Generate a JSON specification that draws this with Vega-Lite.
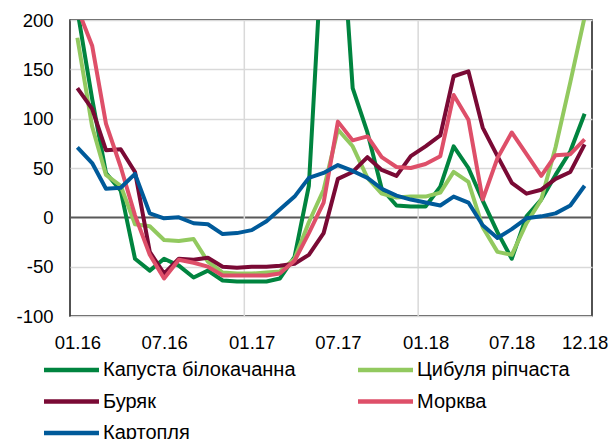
{
  "$schema": "https://vega.github.io/schema/vega-lite/v6.json",
  "width": 522,
  "height": 296,
  "autosize": {"type": "none"},
  "padding": {"left": 70, "top": 20, "right": 20, "bottom": 123},
  "background": "white",
  "config": {
    "view": {"stroke": "#1a1a1a", "strokeWidth": 1.5},
    "font": "Liberation Sans"
  },
  "data": {
    "values": [
      {"date": "2016-01-01", "Капуста білокачанна": 210, "Цибуля ріпчаста": 182, "Буряк": 131, "Морква": 212, "Картопля": 71},
      {"date": "2016-02-01", "Капуста білокачанна": 120, "Цибуля ріпчаста": 92, "Буряк": 110, "Морква": 174, "Картопля": 55},
      {"date": "2016-03-01", "Капуста білокачанна": 45, "Цибуля ріпчаста": 43, "Буряк": 68, "Морква": 95, "Картопля": 29},
      {"date": "2016-04-01", "Капуста білокачанна": 27, "Цибуля ріпчаста": 32, "Буряк": 69, "Морква": 51, "Картопля": 30},
      {"date": "2016-05-01", "Капуста білокачанна": -42, "Цибуля ріпчаста": -7, "Буряк": 46, "Морква": 2, "Картопля": 44},
      {"date": "2016-06-01", "Капуста білокачанна": -54, "Цибуля ріпчаста": -9, "Буряк": -35, "Морква": -38, "Картопля": 4},
      {"date": "2016-07-01", "Капуста білокачанна": -42, "Цибуля ріпчаста": -23, "Буряк": -57, "Морква": -62, "Картопля": -1},
      {"date": "2016-08-01", "Капуста білокачанна": -49, "Цибуля ріпчаста": -24, "Буряк": -42, "Морква": -43, "Картопля": 0},
      {"date": "2016-09-01", "Капуста білокачанна": -61, "Цибуля ріпчаста": -22, "Буряк": -43, "Морква": -46, "Картопля": -6},
      {"date": "2016-10-01", "Капуста білокачанна": -54, "Цибуля ріпчаста": -45, "Буряк": -41, "Морква": -50, "Картопля": -7},
      {"date": "2016-11-01", "Капуста білокачанна": -64, "Цибуля ріпчаста": -56, "Буряк": -50, "Морква": -59, "Картопля": -17},
      {"date": "2016-12-01", "Капуста білокачанна": -65, "Цибуля ріпчаста": -57, "Буряк": -51, "Морква": -59, "Картопля": -16},
      {"date": "2017-01-01", "Капуста білокачанна": -65, "Цибуля ріпчаста": -57, "Буряк": -50, "Морква": -59, "Картопля": -13},
      {"date": "2017-02-01", "Капуста білокачанна": -65, "Цибуля ріпчаста": -56, "Буряк": -50, "Морква": -59, "Картопля": -4},
      {"date": "2017-03-01", "Капуста білокачанна": -62, "Цибуля ріпчаста": -55, "Буряк": -49, "Морква": -57, "Картопля": 8},
      {"date": "2017-04-01", "Капуста білокачанна": -40, "Цибуля ріпчаста": -42, "Буряк": -47, "Морква": -44, "Картопля": 21},
      {"date": "2017-05-01", "Капуста білокачанна": 32, "Цибуля ріпчаста": -5, "Буряк": -38, "Морква": -16, "Картопля": 40},
      {"date": "2017-06-01", "Капуста білокачанна": 300, "Цибуля ріпчаста": 28, "Буряк": -16, "Морква": 15, "Картопля": 45},
      {"date": "2017-07-01", "Капуста білокачанна": 350, "Цибуля ріпчаста": 89, "Буряк": 39, "Морква": 97, "Картопля": 53},
      {"date": "2017-08-01", "Капуста білокачанна": 131, "Цибуля ріпчаста": 72, "Буряк": 46, "Морква": 78, "Картопля": 47},
      {"date": "2017-09-01", "Капуста білокачанна": 86, "Цибуля ріпчаста": 40, "Буряк": 61, "Морква": 82, "Картопля": 40},
      {"date": "2017-10-01", "Капуста білокачанна": 29, "Цибуля ріпчаста": 24, "Буряк": 48, "Морква": 61, "Картопля": 29},
      {"date": "2017-11-01", "Капуста білокачанна": 12, "Цибуля ріпчаста": 20, "Буряк": 42, "Морква": 51, "Картопля": 22},
      {"date": "2017-12-01", "Капуста білокачанна": 11, "Цибуля ріпчаста": 21, "Буряк": 62, "Морква": 50, "Картопля": 18},
      {"date": "2018-01-01", "Капуста білокачанна": 11, "Цибуля ріпчаста": 21, "Буряк": 72, "Морква": 54, "Картопля": 15},
      {"date": "2018-02-01", "Капуста білокачанна": 31, "Цибуля ріпчаста": 25, "Буряк": 83, "Морква": 62, "Картопля": 12},
      {"date": "2018-03-01", "Капуста білокачанна": 72, "Цибуля ріпчаста": 46, "Буряк": 143, "Морква": 124, "Картопля": 21},
      {"date": "2018-04-01", "Капуста білокачанна": 50, "Цибуля ріпчаста": 36, "Буряк": 148, "Морква": 99, "Картопля": 15},
      {"date": "2018-05-01", "Капуста білокачанна": 17, "Цибуля ріпчаста": -10, "Буряк": 91, "Морква": 18, "Картопля": -8},
      {"date": "2018-06-01", "Капуста білокачанна": -15, "Цибуля ріпчаста": -35, "Буряк": 62, "Морква": 60, "Картопля": -21},
      {"date": "2018-07-01", "Капуста білокачанна": -42, "Цибуля ріпчаста": -38, "Буряк": 35, "Морква": 86, "Картопля": -12},
      {"date": "2018-08-01", "Капуста білокачанна": 1, "Цибуля ріпчаста": -6, "Буряк": 24, "Морква": 64, "Картопля": -1},
      {"date": "2018-09-01", "Капуста білокачанна": 18, "Цибуля ріпчаста": 18, "Буряк": 28, "Морква": 42, "Картопля": 1},
      {"date": "2018-10-01", "Капуста білокачанна": 43, "Цибуля ріпчаста": 71, "Буряк": 39, "Морква": 63, "Картопля": 4},
      {"date": "2018-11-01", "Капуста білокачанна": 67, "Цибуля ріпчаста": 137, "Буряк": 46, "Морква": 64, "Картопля": 12},
      {"date": "2018-12-01", "Капуста білокачанна": 105, "Цибуля ріпчаста": 203, "Буряк": 74, "Морква": 79, "Картопля": 32}
    ]
  },
  "layer": [
    {
      "data": {"values": [{"date": "2016-12-16T12:00:00Z"}, {"date": "2017-12-16T12:00:00Z"}]},
      "mark": {"type": "rule", "color": "#d9d9d9", "strokeWidth": 1.5},
      "encoding": {
        "x": {
          "field": "date",
          "type": "temporal",
          "axis": {
            "values": [
              {"year": 2016, "month": 1, "date": 1, "utc": true},
              {"year": 2016, "month": 7, "date": 1, "utc": true},
              {"year": 2017, "month": 1, "date": 1, "utc": true},
              {"year": 2017, "month": 7, "date": 1, "utc": true},
              {"year": 2018, "month": 1, "date": 1, "utc": true},
              {"year": 2018, "month": 7, "date": 1, "utc": true},
              {"year": 2018, "month": 12, "date": 1, "utc": true}
            ],
            "labelExpr": "utcFormat(datum.value, '%m.%y')",
            "title": null,
            "grid": false,
            "ticks": false,
            "tickSize": 0,
            "domain": false,
            "labelFontSize": 18.5,
            "labelColor": "#000000",
            "labelPadding": 17,
            "labelFlush": false,
            "labelOverlap": false
          }
        }
      }
    },
    {
      "transform": [
        {"fold": ["Капуста білокачанна", "Цибуля ріпчаста", "Буряк", "Морква", "Картопля"], "as": ["series", "value"]}
      ],
      "mark": {"type": "line", "strokeWidth": 4, "clip": true, "strokeJoin": "round"},
      "encoding": {
        "x": {
          "field": "date",
          "type": "temporal",
          "scale": {
            "type": "utc",
            "domain": [
              {"year": 2015, "month": 12, "date": 16, "hours": 12, "utc": true},
              {"year": 2018, "month": 12, "date": 16, "hours": 12, "utc": true}
            ]
          },
          "axis": {
            "values": [
              {"year": 2016, "month": 1, "date": 1, "utc": true},
              {"year": 2016, "month": 7, "date": 1, "utc": true},
              {"year": 2017, "month": 1, "date": 1, "utc": true},
              {"year": 2017, "month": 7, "date": 1, "utc": true},
              {"year": 2018, "month": 1, "date": 1, "utc": true},
              {"year": 2018, "month": 7, "date": 1, "utc": true},
              {"year": 2018, "month": 12, "date": 1, "utc": true}
            ],
            "labelExpr": "utcFormat(datum.value, '%m.%y')",
            "title": null,
            "grid": false,
            "ticks": false,
            "tickSize": 0,
            "domain": false,
            "labelFontSize": 18.5,
            "labelColor": "#000000",
            "labelPadding": 17,
            "labelFlush": false,
            "labelOverlap": false
          }
        },
        "y": {
          "field": "value",
          "type": "quantitative",
          "scale": {"domain": [-100, 200], "nice": false, "zero": false},
          "axis": {
            "values": [-100, -50, 0, 50, 100, 150, 200],
            "labelExpr": "'' + datum.value",
            "title": null,
            "ticks": false,
            "tickSize": 0,
            "domain": false,
            "grid": true,
            "gridColor": {"condition": {"test": "datum.value === 0", "value": "#595959"}, "value": "#d9d9d9"},
            "gridWidth": {"condition": {"test": "datum.value === 0", "value": 2}, "value": 1.5},
            "labelFontSize": 18.5,
            "labelColor": "#000000",
            "labelPadding": 17
          }
        },
        "color": {
          "field": "series",
          "type": "nominal",
          "scale": {
            "domain": ["Капуста білокачанна", "Цибуля ріпчаста", "Буряк", "Морква", "Картопля"],
            "range": ["#00843f", "#92c95f", "#7a0a35", "#de4f69", "#005a9a"]
          },
          "legend": {
            "orient": "none",
            "legendX": -28.25,
            "legendY": 334,
            "columns": 2,
            "direction": "horizontal",
            "title": null,
            "symbolType": "M-1,0H3",
            "symbolSize": 756,
            "symbolStrokeWidth": 4.5,
            "labelFontSize": 20,
            "labelColor": "#000000",
            "labelOffset": 29.25,
            "labelLimit": 400,
            "rowPadding": 5.5,
            "columnPadding": 53,
            "padding": 0
          }
        }
      }
    }
  ]
}
